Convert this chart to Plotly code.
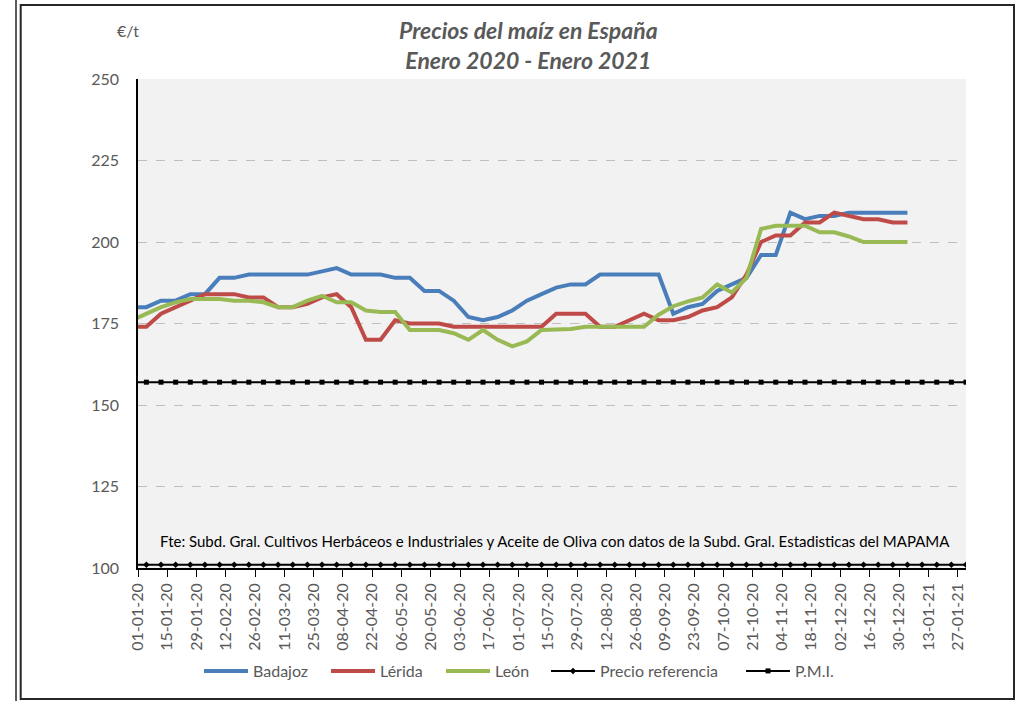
import pandas as pd
import plotly.graph_objects as go

# weekly quotations (first point lies just before the axis start and is clipped)
dates = pd.date_range("2019-12-29", "2021-01-03", freq="7D")
ref_dates = pd.date_range("2019-12-29", "2021-01-31", freq="7D")

badajoz = [180, 180, 182, 182, 184, 184, 189, 189, 190, 190, 190, 190, 190, 191, 192, 190,
           190, 190, 189, 189, 185, 185, 182, 177, 176, 177, 179, 182, 184, 186, 187, 187,
           190, 190, 190, 190, 190, 178, 180, 181, 185, 187, 189, 196, 196, 209, 207, 208,
           208, 209, 209, 209, 209, 209]
lerida = [174, 174, 178, 180, 182, 184, 184, 184, 183, 183, 180, 180, 181, 183, 184, 180,
          170, 170, 176, 175, 175, 175, 174, 174, 174, 174, 174, 174, 174, 178, 178, 178,
          174, 174, 176, 178, 176, 176, 177, 179, 180, 183, 190, 200, 202, 202, 206, 206,
          209, 208, 207, 207, 206, 206]
leon = [176, 178, 180, 181.5, 182.5, 182.5, 182.5, 182, 182, 181.5, 180, 180, 182, 183.5,
        181.5, 181.5, 179, 178.5, 178.5, 173, 173, 173, 172, 170, 173, 170, 168, 169.5, 173,
        173, 173.3, 174, 174, 174, 174, 174, 177.7, 180.3, 181.8, 183, 187, 184.5, 189, 204,
        205, 205, 205, 203, 203, 201.7, 200, 200, 200, 200]
precio_ref = 101.0
pmi = 157.0

FONT = "Lato, 'Open Sans', sans-serif"
GREY = "#595959"

# plot area in pixels (for placing frame, notes and legend entries)
L, R, T, B = 138, 966, 79, 568
def px(x): return (x - L) / (R - L)
def py(y): return (B - y) / (B - T)

fig = go.Figure()
fig.add_trace(go.Scatter(x=dates, y=badajoz, name="Badajoz", mode="lines", legend="legend",
                         line=dict(color="#4A7EBB", width=4)))
fig.add_trace(go.Scatter(x=dates, y=lerida, name="Lérida", mode="lines", legend="legend2",
                         line=dict(color="#BE4B48", width=4)))
fig.add_trace(go.Scatter(x=dates, y=leon, name="León", mode="lines", legend="legend3",
                         line=dict(color="#98B954", width=4)))
fig.add_trace(go.Scatter(x=ref_dates, y=[precio_ref] * len(ref_dates), name="Precio referencia",
                         mode="lines+markers", legend="legend4", line=dict(color="black", width=2),
                         marker=dict(symbol="diamond", size=5, color="black")))
fig.add_trace(go.Scatter(x=ref_dates, y=[pmi] * len(ref_dates), name="P.M.I.",
                         mode="lines+markers", legend="legend5", line=dict(color="black", width=2),
                         marker=dict(symbol="square", size=5, color="black")))

fig.update_xaxes(type="date", range=["2020-01-01", "2021-01-31"], tick0="2020-01-01",
                 dtick=14 * 86400000, tickformat="%d-%m-%y", tickangle=-90,
                 ticks="outside", ticklen=7, tickcolor="black", showgrid=False,
                 showline=True, linecolor="black", linewidth=1.5,
                 tickfont=dict(family=FONT, size=16, color=GREY))
fig.update_yaxes(range=[100, 250], dtick=25, showgrid=True, gridcolor="#BFBFBF",
                 griddash="dash", gridwidth=1, showline=True, linecolor="black",
                 linewidth=1.5, zeroline=False, ticks="", ticklabelstandoff=14,
                 tickfont=dict(family=FONT, size=16, color=GREY))

fig.add_annotation(x=px(528), y=py(45), xref="paper", yref="paper", showarrow=False,
                   xanchor="center", yanchor="middle",
                   text="<b><i>Precios del maíz en España<br>Enero 2020 - Enero 2021</i></b>",
                   font=dict(family=FONT, size=23, color=GREY))
fig.add_annotation(x=px(128), y=py(30), xref="paper", yref="paper", showarrow=False,
                   xanchor="center", yanchor="middle",
                   text="€/t", font=dict(family=FONT, size=16, color=GREY))
fig.add_annotation(x=px(555), y=py(541), xref="paper", yref="paper", showarrow=False,
                   xanchor="center", yanchor="middle",
                   text="Fte: Subd. Gral. Cultivos Herbáceos e Industriales y Aceite de Oliva "
                        "con datos de la Subd. Gral. Estadisticas del MAPAMA",
                   font=dict(family=FONT, size=15, color="black"))

# chart frame and neighbouring border line
fig.add_shape(type="rect", xref="paper", yref="paper", x0=px(20.7), x1=px(1014),
              y0=py(699), y1=py(5), line=dict(color="#262626", width=2))
fig.add_shape(type="line", xref="paper", yref="paper", x0=px(16), x1=px(16),
              y0=py(701), y1=py(0), line=dict(color="#262626", width=1.5))

# one legend per entry so each sits where the reference puts it
leg_x = {"legend": 205, "legend2": 332, "legend3": 447, "legend4": 552, "legend5": 747}
legends = {}
for key, x0 in leg_x.items():
    legends[key] = dict(orientation="h", x=px(x0 - 6), y=py(671), xanchor="left",
                        yanchor="middle", itemwidth=44, bgcolor="rgba(0,0,0,0)",
                        font=dict(family=FONT, size=16, color=GREY))

fig.update_layout(
    width=1024, height=701, autosize=False,
    margin=dict(l=L, r=1024 - R, t=T, b=701 - B),
    paper_bgcolor="white", plot_bgcolor="#F2F2F2",
    showlegend=True,
    **legends,
)

fig.write_html("out.html", config={"displayModeBar": False},
               post_script="document.body.style.margin='0';")
